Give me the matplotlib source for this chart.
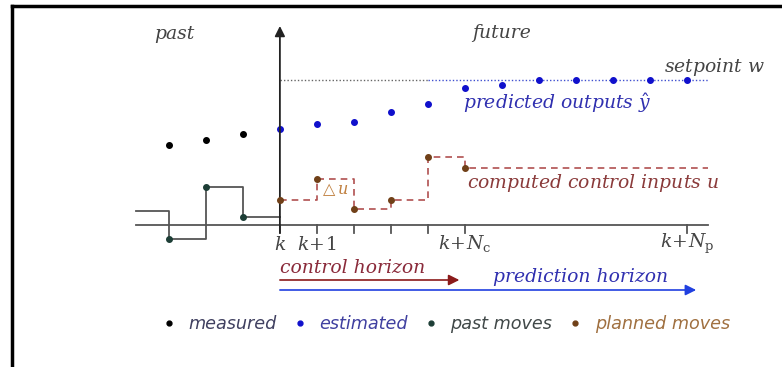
import matplotlib
matplotlib.use('Agg')
import matplotlib.pyplot as plt
from matplotlib.lines import Line2D

# dane (x = kroki wzgledem k, y = wartosc umowna)
measured_steps = [-3, -2, -1]
measured_y = [8.0, 8.5, 9.1]

pred_steps = [0, 1, 2, 3, 4, 5, 6, 7, 8, 9, 10, 11]
pred_y = [9.6, 10.1, 10.3, 11.3, 12.1, 13.7, 14.0, 14.5, 14.5, 14.5, 14.5, 14.5]
setpoint = 14.5

past_steps = [-3, -2, -1]
past_u = [-1.4, 3.8, 0.8]
u_before = 1.4

plan_steps = [0, 1, 2, 3, 4, 5]
plan_u = [2.5, 4.6, 1.6, 2.5, 6.8, 5.7]

Nc = 5
Np = 11
tick_steps = [0, 1, 2, 3, 4, 5, 11]
tick_labels = {0: r'$k$', 1: r'$k\!+\!1$', 5: r'$k\!+\!N_\mathrm{c}$', 11: r'$k\!+\!N_\mathrm{p}$'}

x_left, x_right = -3.9, 11.57

plt.rcParams['mathtext.fontset'] = 'dejavuserif'
fig = plt.figure(figsize=(7.82, 3.67), dpi=100)
ax = fig.add_axes([12 / 782, 0, 1 - 12 / 782, 1 - 6 / 367])
ax.set_xlim(-7.24, 13.57)
ax.set_ylim(-14.2, 21.9)
for s in ['right', 'bottom']:
    ax.spines[s].set_visible(False)
for s in ['left', 'top']:
    ax.spines[s].set_linewidth(2.5)
ax.set_xticks([])
ax.set_yticks([])

serif = dict(family='DejaVu Serif', style='italic', fontsize=13.5)
gray = '#444444'

# os pozioma i pionowa
ax.plot([x_left, x_right], [0, 0], color='#555555', lw=1.3, zorder=1)
ax.annotate('', xy=(0, 19.9), xytext=(0, -0.8),
            arrowprops=dict(arrowstyle='-|>', color='#222222', lw=1.3, mutation_scale=15,
                            shrinkA=0, shrinkB=0))
for t in tick_steps:
    ax.plot([t, t], [0, -0.8], color='#555555', lw=1.3)
    if t in tick_labels:
        ax.text(t, -1.9, tick_labels[t], ha='center', va='center', color=gray, fontsize=13.5)

# setpoint
ax.plot([0, 4], [setpoint, setpoint], color='#666666', lw=1, ls=(0, (1, 1.5)))
ax.plot([4, x_right], [setpoint, setpoint], color='#4050d0', lw=1, ls=(0, (1, 1.5)))

# punkty wyjscia
ax.plot(measured_steps, measured_y, 'o', color='black', ms=4)
ax.plot(pred_steps, pred_y, 'o', color='#1010cc', ms=4)

# przeszle ruchy
px = [x_left] + past_steps + [0]
py = [u_before] + past_u + [past_u[-1]]
ax.step(px, py, where='post', color='#555555', lw=1.3)
ax.plot(past_steps, past_u, 'o', color='#1d3e36', ms=4)

# planowane ruchy
qx = plan_steps + [x_right]
qy = plan_u + [plan_u[-1]]
ax.step(qx, qy, where='post', color='#b05050', lw=1.2, ls=(0, (4, 3)))
ax.plot(plan_steps, plan_u, 'o', color='#704018', ms=4, zorder=3)
ax.text(1.05, 3.5, r'$\triangle u$', color='#c08040', fontsize=11.5, va='center')

# opisy
ax.text(-2.85, 19.1, 'past', ha='center', va='center', color=gray, **serif)
ax.text(6.0, 19.2, 'future', ha='center', va='center', color=gray, **serif)
ax.text(13.1, 15.8, 'setpoint $w$', ha='right', va='center', color=gray, **serif)
ax.text(4.95, 12.2, r'predicted outputs $\hat{y}$', ha='left', va='center', color='#3030b0', **serif)
ax.text(5.05, 4.2, 'computed control inputs $u$', ha='left', va='center', color='#8a3a3a', **serif)

# horyzonty
ax.text(0, -4.3, 'control horizon', ha='left', va='center', color='#8a2a3a', **serif)
ax.annotate('', xy=(4.85, -5.5), xytext=(0, -5.5),
            arrowprops=dict(arrowstyle='-|>', color='#8b1a1a', lw=1.2, mutation_scale=16,
                            shrinkA=0, shrinkB=0))
ax.text(5.75, -5.2, 'prediction horizon', ha='left', va='center', color='#3030b0', **serif)
ax.annotate('', xy=(11.25, -6.5), xytext=(0, -6.5),
            arrowprops=dict(arrowstyle='-|>', color='#2040e0', lw=1.2, mutation_scale=16,
                            shrinkA=0, shrinkB=0))

# legenda
handles = [Line2D([], [], ls='', marker='o', ms=3.5, color=c)
           for c in ['black', '#1010cc', '#1d3e36', '#704018']]
labels = ['measured', 'estimated', 'past moves', 'planned moves']
leg = ax.legend(handles, labels, ncol=4, frameon=False, loc='center',
                bbox_to_anchor=(452 / 782 - 12 / 770, 1 - 318 / 361), handletextpad=0.6,
                columnspacing=0.8, handlelength=1.0,
                prop=dict(family='DejaVu Sans', style='italic', size=12.7))
for txt, c in zip(leg.get_texts(), ['#404060', '#4040a0', '#404848', '#a07040']):
    txt.set_color(c)

fig.savefig('out.png', dpi=100)
